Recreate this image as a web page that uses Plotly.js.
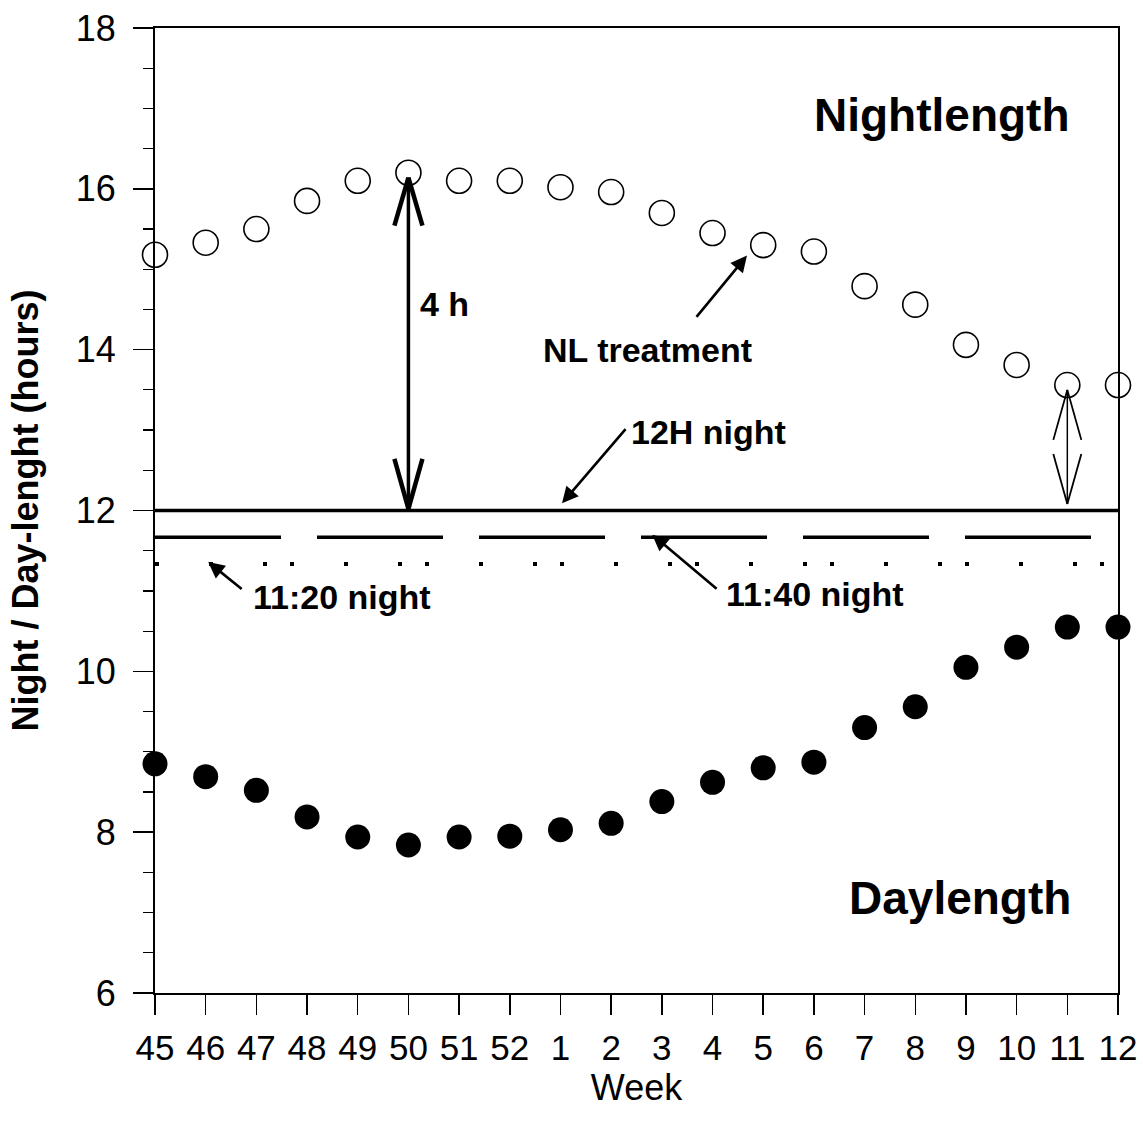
<!DOCTYPE html>
<html>
<head>
<meta charset="utf-8">
<script src="https://cdn.plot.ly/plotly-3.0.1.min.js"></script>
<style>html,body{margin:0;padding:0;background:#fff;}</style>
</head>
<body>
<div id="chart" style="width:1143px;height:1133px;"></div>
<script>
// ---- data ----
const weeks = ['45','46','47','48','49','50','51','52','1','2','3','4','5','6','7','8','9','10','11','12'];
const nightlength = [15.18,15.33,15.50,15.85,16.10,16.20,16.10,16.10,16.02,15.96,15.70,15.45,15.30,15.22,14.79,14.56,14.06,13.81,13.56,13.56];
const daylength = [8.85,8.69,8.52,8.19,7.94,7.84,7.94,7.95,8.03,8.11,8.38,8.62,8.80,8.87,9.30,9.56,10.05,10.30,10.55,10.55];
const nightRefHours = [12, 11 + 40/60, 11 + 20/60];
const nightRefLabels = ['12H night', '11:40 night', '11:20 night'];

const idx = weeks.map((w, i) => i);
const xEnd = weeks.length - 1;
const FONT = 'Liberation Sans, Arial, Helvetica, sans-serif';

// pixel -> data helpers (plot area 963 x 965 px)
const pxX = 963 / xEnd;
const pxY = 965 / 12;
const dx = p => p / pxX;
const dy = p => p / pxY;

const traces = [
  {x: [0, xEnd], y: [nightRefHours[0], nightRefHours[0]], mode: 'lines',
   line: {color: '#000', width: 3.5}, hoverinfo: 'skip'},
  {x: [0, xEnd], y: [nightRefHours[1], nightRefHours[1]], mode: 'lines',
   line: {color: '#000', width: 3.5, dash: '126px,36px'}, hoverinfo: 'skip'},
  {x: [0, xEnd], y: [nightRefHours[2], nightRefHours[2]], mode: 'lines',
   line: {color: '#000', width: 4, dash: '4px,50px,4px,50px,4px,23px'}, hoverinfo: 'skip'},
  {x: idx, y: nightlength, mode: 'markers', cliponaxis: false,
   marker: {symbol: 'circle-open', size: 25, color: '#000', line: {width: 1.6, color: '#000'}}},
  {x: idx, y: daylength, mode: 'markers', cliponaxis: false,
   marker: {symbol: 'circle', size: 25, color: '#000', line: {width: 0}}}
];

// double arrows
const iBig = weeks.indexOf('50');
const iSmall = weeks.indexOf('11');
function vHead(xi, apexY, dir, w, len) {
  const armY = apexY + dir * dy(len);
  return [
    {type: 'line', xref: 'x', yref: 'y', x0: xi, y0: apexY, x1: xi - dx(14), y1: armY, line: {color: '#000', width: w}},
    {type: 'line', xref: 'x', yref: 'y', x0: xi, y0: apexY, x1: xi + dx(14), y1: armY, line: {color: '#000', width: w}}
  ];
}
const bigTop = nightlength[iBig] - 0.06;
const bigBot = nightRefHours[0] + 0.02;
const smallTop = nightlength[iSmall] - 0.06;
const smallBot = nightRefHours[0] + 0.08;
const shapes = [
  {type: 'line', xref: 'x', yref: 'y', x0: iBig, y0: bigBot, x1: iBig, y1: bigTop, line: {color: '#000', width: 3.5}},
  ...vHead(iBig, bigTop, -1, 4.5, 48),
  ...vHead(iBig, bigBot, 1, 4.5, 50),
  {type: 'line', xref: 'x', yref: 'y', x0: iSmall, y0: smallBot, x1: iSmall, y1: smallTop, line: {color: '#000', width: 1.5}},
  ...vHead(iSmall, smallTop, -1, 1.8, 50),
  ...vHead(iSmall, smallBot, 1, 1.8, 50)
];

function label(text, x, y, size) {
  return {text: text, x: x, y: y, xref: 'x', yref: 'y', showarrow: false,
          font: {family: FONT, size: size, color: '#000', weight: 'bold'}, xanchor: 'center', yanchor: 'middle'};
}
function arrow(xHead, yHead, xTail, yTail) {
  return {text: '', x: xHead, y: yHead, ax: xTail, ay: yTail, xref: 'x', yref: 'y', axref: 'x', ayref: 'y',
          showarrow: true, arrowhead: 2, arrowsize: 1.25, arrowwidth: 2.6, arrowcolor: '#000', standoff: 0};
}

const annotations = [
  label('Nightlength', 15.53, 16.92, 46),
  label('Daylength', 15.88, 7.18, 46),
  label('4 h', iBig + 0.72, 14.57, 34),
  label('NL treatment', 9.72, 13.99, 34),
  arrow(11.68, 15.17, 10.66, 14.39),
  label(nightRefLabels[0], 10.93, 12.98, 34),
  arrow(8.03, 12.09, 9.31, 13.03),
  label(nightRefLabels[1], 13.03, 10.96, 34),
  arrow(9.81, 11.70, 11.11, 11.01),
  label(nightRefLabels[2], 3.69, 10.93, 34),
  arrow(1.05, 11.36, 1.74, 11.01)
];

const layout = {
  width: 1143, height: 1133,
  margin: {l: 155, r: 25, t: 28, b: 140},
  paper_bgcolor: '#fff', plot_bgcolor: '#fff',
  showlegend: false,
  font: {family: FONT, color: '#000'},
  xaxis: {
    range: [0, xEnd], tickvals: idx, ticktext: weeks,
    showgrid: false, zeroline: false,
    showline: true, linecolor: '#000', linewidth: 2, mirror: true,
    ticks: 'outside', ticklen: 20, tickwidth: 1.5, tickcolor: '#000',
    tickfont: {family: FONT, size: 35, color: '#000'},
    ticklabelstandoff: 3,
    title: {text: 'Week', font: {family: FONT, size: 36, color: '#000'}, standoff: 6}
  },
  yaxis: {
    range: [6, 18], tickvals: [6, 8, 10, 12, 14, 16, 18],
    showgrid: false, zeroline: false,
    showline: true, linecolor: '#000', linewidth: 2, mirror: true,
    ticks: 'outside', ticklen: 20, tickwidth: 1.5, tickcolor: '#000',
    minor: {dtick: 0.5, ticks: 'outside', ticklen: 10, tickwidth: 1.2, tickcolor: '#000', showgrid: false},
    tickfont: {family: FONT, size: 36, color: '#000'},
    ticklabelstandoff: 10,
    title: {text: '<b>Night / Day-lenght (hours)</b>', font: {family: FONT, size: 36, color: '#000'}, standoff: 26}
  },
  shapes: shapes,
  annotations: annotations
};

Plotly.newPlot('chart', traces, layout, {displayModeBar: false, staticPlot: true});
</script>
</body>
</html>
